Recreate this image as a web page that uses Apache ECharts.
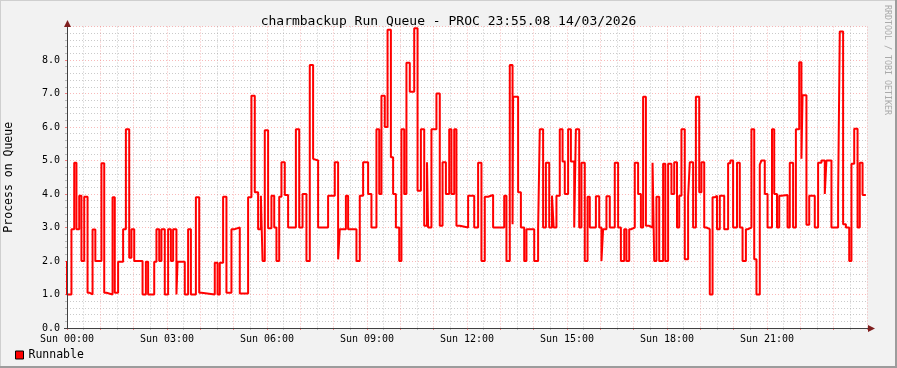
<!DOCTYPE html>
<html>
<head>
<meta charset="utf-8">
<script src="https://cdn.jsdelivr.net/npm/echarts@6/dist/echarts.min.js"></script>
<style>
  html, body { margin: 0; padding: 0; background: #f2f2f2; }
  #chart { width: 897px; height: 368px; }
</style>
</head>
<body>
<div id="chart"></div>
<script>
// Minutes since Sun 00:00 where each step starts
const stepMinutes = [
  0, 0, 8, 13, 17, 22, 26, 31, 37, 41, 46, 51, 62, 67, 71, 82, 86, 92, 101, 106,
  112, 116, 121, 136, 142, 146, 157, 161, 166, 170, 176, 182, 187, 191, 197, 199, 212, 218, 223, 232,
  238, 242, 266, 271, 275, 281, 287, 296, 302, 311, 326, 332, 338, 344, 349, 352, 356, 362, 368, 373,
  377, 382, 386, 392, 398, 412, 418, 424, 431, 437, 443, 446, 452, 470, 482, 488, 491, 502, 506, 521,
  527, 533, 542, 548, 557, 562, 566, 572, 577, 583, 587, 592, 598, 602, 607, 611, 617, 625, 631, 637,
  643, 648, 650, 656, 665, 671, 676, 682, 688, 692, 697, 701, 707, 722, 733, 740, 746, 752, 758, 767,
  787, 791, 797, 802, 803, 812, 817, 823, 827, 841, 848, 851, 857, 862, 868, 873, 876, 881, 887, 892,
  896, 902, 907, 913, 916, 922, 926, 932, 937, 941, 952, 958, 962, 965, 971, 977, 986, 992, 997, 1003,
  1007, 1012, 1016, 1022, 1028, 1033, 1037, 1042, 1048, 1054, 1057, 1061, 1066, 1073, 1077, 1082, 1088, 1093, 1098, 1102,
  1106, 1112, 1118, 1121, 1127, 1132, 1138, 1142, 1147, 1151, 1157, 1162, 1166, 1170, 1175, 1183, 1190, 1194, 1199, 1206,
  1211, 1216, 1222, 1226, 1232, 1237, 1241, 1247, 1250, 1256, 1261, 1269, 1273, 1278, 1282, 1286, 1297, 1301, 1307, 1312,
  1318, 1322, 1324, 1331, 1336, 1346, 1352, 1358, 1364, 1367, 1376, 1388, 1391, 1397, 1402, 1408, 1412, 1417, 1423, 1427,
  1432, 1438
];
// Runnable processes on queue
const runnable = [
  2.0, 1.0, 2.95, 4.93, 2.95, 3.95, 2.0, 3.92, 1.05, 1.0, 2.94, 2.0, 4.92, 1.05, 1.0, 3.9, 1.05, 1.98, 2.95, 5.93,
  2.1, 2.95, 2.0, 1.0, 1.98, 1.0, 1.98, 2.95, 2.0, 2.95, 1.0, 2.95, 2.0, 2.95, 1.0, 1.98, 1.0, 2.95, 1.0, 3.9,
  1.05, 1.0, 1.95, 1.0, 1.95, 3.92, 1.05, 2.95, 3.0, 1.03, 3.9, 6.93, 4.05, 2.95, 3.95, 2.0, 5.9, 2.98, 3.95, 3.0,
  2.0, 3.92, 4.95, 3.97, 3.0, 5.93, 3.0, 4.0, 2.0, 7.85, 5.05, 5.0, 3.0, 3.95, 4.95, 2.05, 2.95, 3.95, 2.95, 2.0,
  3.95, 4.95, 4.0, 3.0, 5.93, 4.0, 6.93, 6.0, 8.9, 5.1, 4.0, 3.0, 2.0, 5.93, 4.0, 7.92, 7.05, 8.95, 4.1, 5.93,
  3.05, 4.95, 3.0, 5.93, 7.0, 3.05, 4.95, 4.0, 5.93, 4.0, 5.93, 3.05, 3.0, 3.95, 3.0, 4.93, 2.0, 3.92, 3.97, 3.0,
  3.95, 2.0, 7.85, 3.1, 6.9, 4.05, 3.0, 2.0, 2.95, 2.0, 2.95, 5.93, 3.0, 4.93, 3.0, 3.95, 3.0, 3.95, 5.93, 4.97,
  4.0, 5.93, 4.97, 3.0, 5.93, 3.0, 4.93, 2.0, 3.92, 3.0, 3.93, 3.0, 2.0, 2.95, 3.93, 3.0, 4.93, 3.0, 2.0, 2.95,
  2.0, 2.95, 3.0, 4.93, 4.0, 3.0, 6.9, 3.05, 3.0, 4.93, 2.0, 3.92, 2.0, 4.9, 2.0, 4.9, 4.0, 4.95, 3.0, 3.95,
  5.93, 2.05, 3.92, 4.95, 3.0, 6.9, 4.05, 4.95, 3.0, 2.95, 1.0, 3.9, 3.95, 2.95, 3.95, 2.95, 4.92, 5.0, 3.0, 4.93,
  3.0, 2.0, 2.95, 3.0, 5.93, 2.05, 1.0, 4.88, 5.0, 4.0, 3.0, 5.93, 4.0, 3.0, 3.95, 3.97, 3.0, 4.93, 3.0, 5.93,
  7.93, 5.05, 6.95, 3.08, 3.95, 3.0, 4.93, 5.0, 4.0, 5.0, 3.0, 3.95, 8.85, 3.1, 3.0, 2.0, 4.9, 5.95, 3.0, 4.93,
  3.97, 3.97
];
const seriesName = 'Runnable';
const dayLabel = 'Sun';
const titleText = 'charmbackup Run Queue - PROC 23:55.08 14/03/2026';
const yAxisTitle = 'Process on Queue';
const watermark = 'RRDTOOL / TOBI OETIKER';

const MONO = '"DejaVu Sans Mono", "Liberation Mono", monospace';
const chart = echarts.init(document.getElementById('chart'), null, { renderer: 'canvas' });
const data = stepMinutes.map((t, i) => [t, runnable[i]]);

const majorGrid = { show: true, lineStyle: { color: 'rgba(240,100,100,0.45)', width: 1, type: [1, 2] } };
const minorGrid = { show: true, lineStyle: { color: 'rgba(150,150,150,0.5)', width: 1, type: [1, 2] } };

chart.setOption({
  animation: false,
  backgroundColor: '#f2f2f2',
  title: {
    text: titleText,
    left: 'center',
    top: 10,
    textStyle: { fontFamily: MONO, fontSize: 13, fontWeight: 'normal', color: '#000' }
  },
  legend: {
    left: 15,
    top: 349,
    padding: 0,
    itemWidth: 8,
    itemHeight: 8,
    textStyle: { fontFamily: MONO, fontSize: 11.5, color: '#000' },
    data: [{ name: seriesName, icon: 'rect', itemStyle: { color: '#ff0000', borderColor: '#000', borderWidth: 1 } }]
  },
  grid: {
    left: 67, right: 30, top: 26.5, bottom: 40,
    outerBoundsMode: 'none',
    containLabel: false,
    show: true, backgroundColor: '#ffffff', borderWidth: 0
  },
  xAxis: {
    type: 'value',
    min: 0, max: 1440, interval: 60,
    axisLine: { show: false },
    axisTick: { show: true, length: 2, lineStyle: { color: '#f08080' } },
    minorTick: { show: true, splitNumber: 2, length: 2, lineStyle: { color: '#bbbbbb' } },
    axisLabel: {
      margin: 6,
      fontFamily: MONO, fontSize: 10, color: '#000',
      formatter: function (v) {
        if (v % 180 !== 0 || v >= 1440) return '';
        const h = v / 60;
        return dayLabel + ' ' + (h < 10 ? '0' : '') + h + ':00';
      }
    },
    splitLine: majorGrid,
    minorSplitLine: minorGrid
  },
  yAxis: {
    type: 'value',
    min: 0, max: 9, interval: 1,
    name: yAxisTitle,
    nameLocation: 'middle',
    nameGap: 52,
    nameTextStyle: { fontFamily: MONO, fontSize: 11.5, color: '#000' },
    axisLine: { show: false },
    axisTick: { show: true, length: 2, lineStyle: { color: '#f08080' } },
    minorTick: { show: true, splitNumber: 5, length: 2, lineStyle: { color: '#bbbbbb' } },
    axisLabel: {
      margin: 7,
      fontFamily: MONO, fontSize: 10, color: '#000',
      formatter: function (v) { return v >= 9 ? '' : v.toFixed(1); }
    },
    splitLine: majorGrid,
    minorSplitLine: minorGrid
  },
  graphic: [
    { type: 'line', silent: true, z: 100, shape: { x1: 67.5, y1: 22, x2: 67.5, y2: 329 }, style: { stroke: '#404040', lineWidth: 1 } },
    { type: 'line', silent: true, z: 100, shape: { x1: 64, y1: 328.5, x2: 871, y2: 328.5 }, style: { stroke: '#404040', lineWidth: 1 } },
    { type: 'polygon', silent: true, z: 100, shape: { points: [[64, 27], [71, 27], [67.5, 20]] }, style: { fill: '#7f1f1f' } },
    { type: 'polygon', silent: true, z: 100, shape: { points: [[868, 325], [868, 332], [875, 328.5]] }, style: { fill: '#7f1f1f' } },
    { type: 'text', silent: true, x: 891, y: 5, rotation: -Math.PI / 2,
      style: { text: watermark, fontFamily: MONO, fontSize: 8.3, fill: '#aaaaaa', align: 'left', verticalAlign: 'top' } },
    { type: 'rect', silent: true, shape: { x: 0, y: 0, width: 897, height: 1 }, style: { fill: '#cfcfcf' } },
    { type: 'rect', silent: true, shape: { x: 0, y: 0, width: 1, height: 368 }, style: { fill: '#cfcfcf' } },
    { type: 'rect', silent: true, shape: { x: 0, y: 366, width: 897, height: 2 }, style: { fill: '#9c9c9c' } },
    { type: 'rect', silent: true, shape: { x: 895, y: 0, width: 2, height: 368 }, style: { fill: '#9c9c9c' } }
  ],
  series: [{
    name: seriesName,
    type: 'line',
    step: 'end',
    showSymbol: false,
    symbol: 'none',
    lineStyle: { color: '#ff0000', width: 2 },
    itemStyle: { color: '#ff0000' },
    data: data
  }]
});
</script>
</body>
</html>
